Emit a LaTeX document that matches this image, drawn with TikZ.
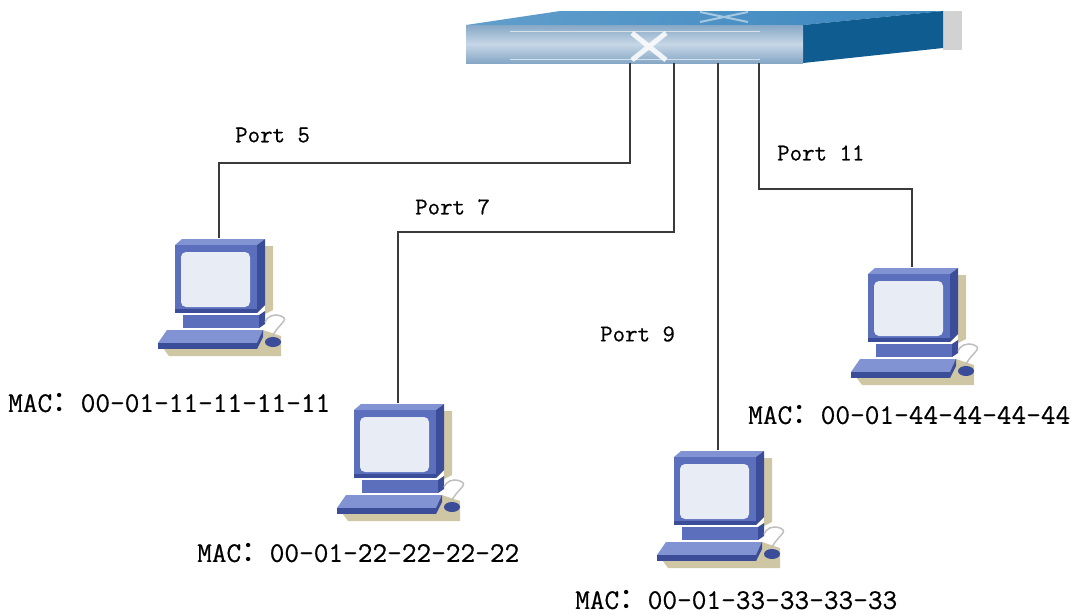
\documentclass[tikz,border=0pt]{standalone}
\usepackage{fontspec}
\newfontfamily\cjk{Noto Sans CJK SC}
\newfontfamily\labelfont[FakeBold=0.6]{Latin Modern Mono}
\usepackage{xcolor}
\usepackage{tikz}

\definecolor{pcfront}{HTML}{5B6FBC}
\definecolor{pctop}{HTML}{8193D2}
\definecolor{pcside}{HTML}{3B4C99}
\definecolor{pcscreen}{HTML}{E8ECF5}
\definecolor{pcshadow}{HTML}{CFC6A4}
\definecolor{swtop}{HTML}{3A86BF}
\definecolor{swside}{HTML}{0E5C90}
\definecolor{swfront}{HTML}{C6D7E6}
\definecolor{swedge}{HTML}{86A7C6}
\definecolor{cable}{HTML}{3A3A3A}

\tikzset{
    pics/computer/.style={code={
        \coordinate (-top) at (0,0);
        \fill[pcshadow] (46,8) -- (54,8) -- (54,72) -- (46,76) -- cycle;
        \fill[pcshadow] (-56,110) -- (44,92) -- (62,98) -- (62,118) -- (-50,118) -- cycle;
        % monitor
        \fill[pctop] (-44,7) -- (-37,1) -- (46,1) -- (38,7) -- cycle;
        \fill[pcfront] (-44,7) rectangle (38,75);
        \fill[pcside] (38,7) -- (46,1) -- (46,67) -- (38,75) -- cycle;
        \fill[pcscreen, rounded corners=5pt] (-38,14) rectangle (31,69);
        \fill[pcside] (-44,71) rectangle (38,75);
        % stand
        \fill[pcfront] (-36,77) rectangle (40,90);
        \fill[pcside] (40,77) -- (46,73) -- (46,86) -- (40,90) -- cycle;
        % keyboard
        \fill[pctop] (-52,92) -- (44,92) -- (38,105) -- (-61,105) -- cycle;
        \fill[pcside] (-61,105) rectangle (38,111);
        \fill[pcside] (38,105) -- (44,92) -- (44,99) -- (38,111) -- cycle;
        % mouse
        \draw[gray!50, line width=1.5pt] (52,101) .. controls (58,86) and (72,82) .. (62,78) .. controls (54,75) and (48,79) .. (46,84);
        \fill[pcside] (54,104) ellipse (8 and 5);
    }}
}

\begin{document}
\begin{tikzpicture}[x=1pt,y=-1pt,
    port/.style={font=\labelfont\fontsize{24.2}{24.2}\selectfont, anchor=west, inner sep=0pt},
    mac/.style={font=\labelfont\fontsize{28.5}{28.5}\selectfont, anchor=west, inner sep=0pt},
    link/.style={draw=cable, line width=1.3pt}]
    \useasboundingbox (0,0) rectangle (1075,614);

    % switch
    \fill[gray!35] (943,11) rectangle (962,50);
    \shade[left color=swtop!80!white, right color=swtop] (466,25) -- (560,11) -- (943,11) -- (803,25) -- cycle;
    \fill[swside] (803,25) -- (943,11) -- (943,48) -- (803,63) -- cycle;
    \shade[top color=swedge, bottom color=swedge, middle color=swfront] (466,25) rectangle (803,63);
    \draw[white, opacity=0.6, line width=1pt] (510,31) -- (760,31) (510,59) -- (760,59);
    \draw[white, opacity=0.85, line width=5pt] (632,33) -- (666,60) (666,33) -- (632,60);
    \draw[white, opacity=0.5, line width=2pt] (700,22) -- (748,12) (700,12) -- (748,22);
    \coordinate (sw5) at (630,63);
    \coordinate (sw7) at (674,63);
    \coordinate (sw9) at (718,63);
    \coordinate (sw11) at (759,63);

    \pic (pcA) at (219,238) {computer};
    \pic (pcB) at (398,403) {computer};
    \pic (pcC) at (718,450) {computer};
    \pic (pcD) at (912,267) {computer};

    \draw[link] (sw5) -- ++(0,100) -| (pcA-top);
    \draw[link] (sw7) -- ++(0,169) -| (pcB-top);
    \draw[link] (sw9) -- (pcC-top);
    \draw[link] (sw11) -- ++(0,126) -| (pcD-top);

    \node[port] (p5) at (235,135) {Port 5};
    \node[port] (p7) at (415,207) {Port 7};
    \node[port] (p9) at (600,334) {Port 9};
    \node[port] (p11) at (777,153) {Port 11};

    \node[mac] (macA) at (8,403) {MAC{\cjk ：}00-01-11-11-11-11};
    \node[mac] (macB) at (197,553) {MAC{\cjk ：}00-01-22-22-22-22};
    \node[mac] (macC) at (575,600) {MAC{\cjk ：}00-01-33-33-33-33};
    \node[mac] (macD) at (748,415) {MAC{\cjk ：}00-01-44-44-44-44};
\end{tikzpicture}
\end{document}
